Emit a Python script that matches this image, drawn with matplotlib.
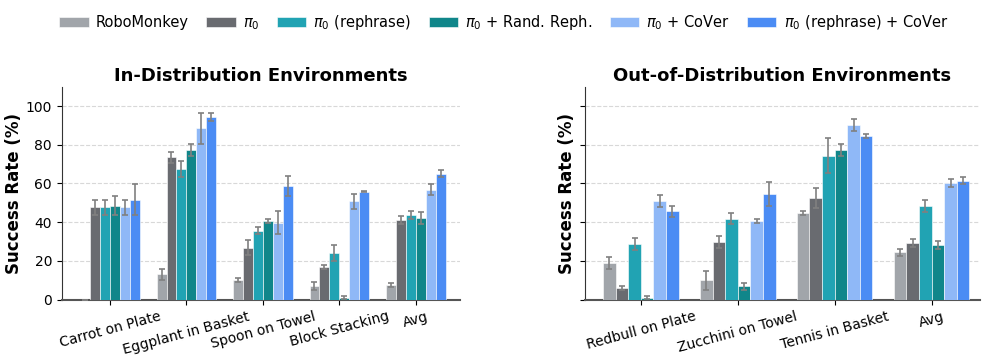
import numpy as np
import matplotlib
matplotlib.use('Agg')
from matplotlib import pyplot as plt

methods = ['RoboMonkey', r'$\pi_0$', r'$\pi_0$ (rephrase)', r'$\pi_0$ + Rand. Reph.',
           r'$\pi_0$ + CoVer', r'$\pi_0$ (rephrase) + CoVer']
colors = ['#a1a5aa', '#696b70', '#21a3b3', '#10868a', '#8fb8f7', '#4b8cf4']

id_tasks = ['Carrot on Plate', 'Eggplant in Basket', 'Spoon on Towel', 'Block Stacking', 'Avg']
id_means = [
    [0, 13, 10, 7, 7.5],
    [47.7, 73.5, 26.8, 17, 41.2],
    [47.7, 67.5, 35.7, 24, 43.8],
    [48.5, 77.4, 40.7, 1, 42],
    [47.7, 88.4, 39.8, 50.8, 56.8],
    [51.6, 94.5, 58.6, 55.7, 65.1],
]
id_errs = [
    [0, 3, 1, 2, 1],
    [4, 3, 4, 1, 2],
    [4, 4, 2, 4, 2],
    [5, 3, 1, 0.7, 3],
    [4, 8, 6, 4, 3],
    [8, 2, 5, 0.3, 2],
]

ood_tasks = ['Redbull on Plate', 'Zucchini on Towel', 'Tennis in Basket', 'Avg']
ood_means = [
    [18.8, 9.9, 44.6, 24.4],
    [6, 29.7, 52.5, 29.4],
    [28.7, 41.9, 74.4, 48.2],
    [1, 6.8, 77.3, 28.4],
    [50.8, 40.5, 90.3, 60.3],
    [45.6, 54.5, 84.3, 61.5],
]
ood_errs = [
    [3, 5, 1, 2],
    [1, 3, 5, 2],
    [3, 3, 9, 3],
    [0.7, 2, 3, 2],
    [3, 1, 3, 2],
    [3, 6, 1, 2],
]

fig = plt.figure(figsize=(9.96, 3.61), dpi=100)
ax1 = fig.add_axes([0.062, 0.17, 0.40, 0.59])
ax2 = fig.add_axes([0.587, 0.17, 0.397, 0.59])

w = 0.13


def draw(ax, tasks, means, errs, title, xlim):
    x = np.arange(len(tasks))
    for i in range(len(methods)):
        ax.bar(x + (i - 2.5) * w, means[i], w, yerr=errs[i], color=colors[i],
               edgecolor='white', linewidth=0.4, label=methods[i],
               error_kw=dict(ecolor='#808080', elinewidth=1.2, capsize=2.5, capthick=1.2),
               zorder=3)
    ax.set_xticks(x)
    ax.set_xticklabels(tasks, rotation=15, fontsize=10)
    ax.set_ylim(0, 110)
    ax.set_yticks([0, 20, 40, 60, 80, 100])
    ax.set_xlim(*xlim)
    ax.set_title(title, fontsize=13, fontweight='bold', pad=4)
    ax.set_ylabel('Success Rate (%)', fontsize=12, fontweight='bold', labelpad=2)
    ax.yaxis.grid(True, linestyle='--', color='#d8d8d8', linewidth=0.8, zorder=0)
    ax.set_axisbelow(True)
    ax.spines['top'].set_visible(False)
    ax.spines['right'].set_visible(False)
    ax.spines['left'].set_color('#333333')
    ax.spines['bottom'].set_color('#555555')
    ax.spines['bottom'].set_linewidth(1.5)
    ax.tick_params(axis='y', labelsize=10)


draw(ax1, id_tasks, id_means, id_errs, 'In-Distribution Environments', (-0.63, 4.58))
draw(ax2, ood_tasks, ood_means, ood_errs, 'Out-of-Distribution Environments', (-0.58, 3.5))
ax2.tick_params(axis='y', labelleft=False)
ax2.yaxis.labelpad = 3

handles, labels = ax1.get_legend_handles_labels()
fig.legend(handles, labels, loc='upper center', bbox_to_anchor=(0.506, 1.0), ncol=6,
           frameon=False, fontsize=10.5, handlelength=2, columnspacing=1.2, handletextpad=0.5)

fig.savefig('out.png', dpi=100)
